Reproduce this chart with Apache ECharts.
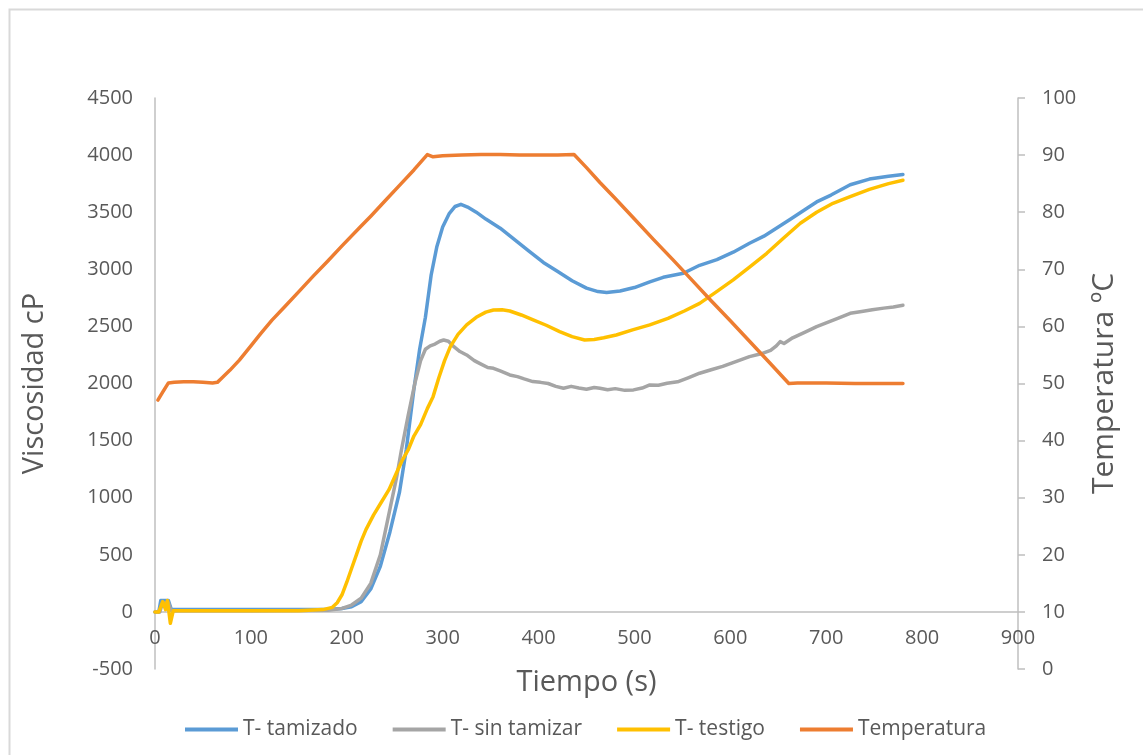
<!DOCTYPE html>
<html>
<head>
<meta charset="utf-8">
<script src="https://cdn.jsdelivr.net/npm/echarts@6/dist/echarts.min.js"></script>
<style>
html,body{margin:0;padding:0;background:#fff;}
#chart{width:1143px;height:755px;}
</style>
</head>
<body>
<div id="chart"></div>
<script>
// Left axis (Viscosidad cP) and right axis (Temperatura ºC) tick setup
const leftTicks = {min: -500, max: 4500, interval: 500};
const rightTicks = {min: 0, max: 100, interval: 10};
const xTicks = {min: 0, max: 900, interval: 100};

const seriesNames = ['T- tamizado', 'T- sin tamizar', 'T- testigo', 'Temperatura'];

// T- tamizado
const tamizadoT = [0, 4, 6, 14, 17, 20, 50, 100, 150, 180, 195, 205, 215, 225, 235, 245, 255, 262, 270, 276, 282, 288, 294, 300, 307, 313, 319, 326, 335, 345, 360, 375, 390, 405, 420, 435, 450, 462, 471, 485, 500, 516, 530, 551, 568, 586, 603, 620, 635, 648, 663, 680, 690, 705, 725, 745, 765, 780];
const tamizadoV = [0, 0, 100, 100, 20, 20, 20, 20, 20, 22, 30, 45, 90, 200, 400, 700, 1050, 1418, 1950, 2300, 2580, 2950, 3200, 3370, 3490, 3550, 3569, 3545, 3500, 3440, 3360, 3260, 3160, 3060, 2980, 2900, 2835, 2805, 2796, 2810, 2840, 2890, 2930, 2965, 3035, 3085, 3150, 3228, 3290, 3359, 3440, 3534, 3590, 3650, 3740, 3790, 3815, 3830];

// T- sin tamizar
const sinTamizarT = [0, 5, 8, 14, 17, 20, 100, 180, 195, 205, 215, 225, 235, 245, 252, 257, 264, 271, 277, 282, 287, 292, 297, 301, 306, 312, 318, 325, 333, 340, 347, 353, 360, 370, 378, 385, 394, 402, 410, 418, 426, 434, 442, 450, 458, 464, 472, 480, 490, 499, 508, 516, 525, 534, 545, 556, 568, 580, 592, 605, 620, 632, 642, 648, 652, 656, 665, 678, 690, 700, 712, 725, 737, 748, 760, 770, 780];
const sinTamizarV = [0, 0, 80, 80, 10, 10, 10, 15, 30, 60, 120, 250, 500, 900, 1180, 1418, 1720, 2002, 2200, 2300, 2330, 2345, 2370, 2381, 2370, 2320, 2280, 2250, 2200, 2170, 2140, 2133, 2110, 2075, 2060, 2040, 2017, 2010, 2000, 1975, 1958, 1975, 1960, 1950, 1965, 1958, 1945, 1955, 1940, 1944, 1960, 1987, 1985, 2002, 2015, 2050, 2090, 2120, 2150, 2190, 2235, 2260, 2290, 2330, 2367, 2350, 2400, 2450, 2498, 2530, 2570, 2615, 2630, 2645, 2660, 2670, 2685];

// T- testigo
const testigoT = [0, 4, 8, 11, 13, 16, 19, 22, 50, 100, 150, 175, 185, 190, 195, 200, 205, 210, 215, 220, 228, 236, 244, 252, 258, 264, 270, 277, 284, 290, 296, 302, 308, 316, 325, 335, 345, 353, 362, 370, 382, 395, 408, 422, 435, 448, 458, 468, 481, 498, 516, 535, 552, 568, 585, 603, 620, 638, 655, 673, 690, 707, 725, 745, 765, 780];
const testigoV = [0, 0, 90, 20, 100, -100, 10, 10, 10, 10, 10, 20, 40, 80, 150, 260, 380, 500, 620, 720, 850, 960, 1070, 1220, 1330, 1418, 1540, 1640, 1780, 1885, 2050, 2200, 2323, 2430, 2513, 2580, 2625, 2644, 2645, 2635, 2600, 2556, 2510, 2454, 2410, 2381, 2385, 2400, 2425, 2470, 2513, 2570, 2635, 2702, 2800, 2907, 3020, 3140, 3270, 3403, 3500, 3578, 3636, 3700, 3750, 3780];

// Temperatura (right axis)
const tempT = [3, 8, 14, 20, 30, 40, 50, 60, 65, 70, 78, 88, 100, 110, 122, 135, 150, 165, 180, 195, 214, 225, 240, 255, 270, 284, 290, 300, 320, 340, 360, 380, 400, 420, 437, 450, 464, 480, 500, 520, 540, 560, 580, 600, 620, 640, 661, 670, 700, 730, 760, 780];
const tempV = [47.1, 48.5, 50.1, 50.2, 50.3, 50.3, 50.2, 50.1, 50.2, 51.0, 52.3, 54.1, 56.6, 58.7, 61.1, 63.4, 66.1, 68.8, 71.4, 74.1, 77.4, 79.3, 82.0, 84.7, 87.4, 90.1, 89.7, 89.9, 90.0, 90.1, 90.1, 90.0, 90.0, 90.0, 90.1, 87.8, 85.2, 82.4, 78.8, 75.2, 71.7, 68.1, 64.5, 61.0, 57.4, 53.8, 50.0, 50.1, 50.1, 50.0, 50.0, 50.0];

const colors = ['#5B9BD5', '#A5A5A5', '#FFC000', '#ED7D31'];
const pair = (xs, ys) => xs.map((x, i) => [x, ys[i]]);
const FONT = '"Open Sans", "Liberation Sans", sans-serif';
const TXT = '#595959';
const AXC = '#BFBFBF';
const plain = v => String(v);

const chart = echarts.init(document.getElementById('chart'), null, {renderer: 'canvas'});

function lineSeries(name, data, color, yIdx) {
  return {
    name: name, type: 'line', yAxisIndex: yIdx, data: data,
    symbol: 'none', smooth: false,
    lineStyle: {color: color, width: 3.5, cap: 'round', join: 'round'},
    itemStyle: {color: color},
    animation: false
  };
}

chart.setOption({
  animation: false,
  backgroundColor: '#fff',
  color: colors,
  textStyle: {fontFamily: FONT},
  graphic: [{
    type: 'rect', left: 7, top: 7, silent: true,
    shape: {x: 0, y: 0, width: 1200, height: 800},
    style: {fill: 'none', stroke: '#D9D9D9', lineWidth: 2}
  }],
  grid: {left: 155, right: 125, top: 98, bottom: 86, containLabel: false},
  legend: {
    data: seriesNames,
    left: 185, top: 719, padding: 0,
    icon: 'rect', itemWidth: 53, itemHeight: 4, itemGap: 35,
    textStyle: {fontFamily: FONT, fontSize: 21, color: TXT},
    selectedMode: false
  },
  xAxis: {
    type: 'value', min: xTicks.min, max: xTicks.max, interval: xTicks.interval,
    offset: -57,
    name: 'Tiempo (s)', nameLocation: 'middle', nameGap: 56,
    nameTextStyle: {fontFamily: FONT, fontSize: 29, color: TXT},
    axisLine: {show: true, onZero: false, lineStyle: {color: AXC, width: 1.5}},
    axisTick: {show: false},
    axisLabel: {fontFamily: FONT, fontSize: 20, color: TXT, margin: 16, showMaxLabel: true, showMinLabel: true, formatter: plain},
    splitLine: {show: false}
  },
  yAxis: [{
    type: 'value', position: 'left',
    min: leftTicks.min, max: leftTicks.max, interval: leftTicks.interval,
    name: 'Viscosidad cP', nameLocation: 'middle', nameGap: 106,
    nameTextStyle: {fontFamily: FONT, fontSize: 29, color: TXT},
    axisLine: {show: true, onZero: false, lineStyle: {color: AXC, width: 1.5}},
    axisTick: {show: false},
    axisLabel: {fontFamily: FONT, fontSize: 20, color: TXT, margin: 22, formatter: plain},
    splitLine: {show: false}
  }, {
    type: 'value', position: 'right',
    min: rightTicks.min, max: rightTicks.max, interval: rightTicks.interval,
    name: 'Temperatura ºC', nameLocation: 'middle', nameGap: 71,
    nameTextStyle: {fontFamily: FONT, fontSize: 30, color: TXT},
    axisLine: {show: true, onZero: false, lineStyle: {color: AXC, width: 1.5}},
    axisTick: {show: true, inside: false, length: 7, lineStyle: {color: AXC, width: 1.5}},
    axisLabel: {fontFamily: FONT, fontSize: 20, color: TXT, margin: 24, formatter: plain},
    splitLine: {show: false}
  }],
  series: [
    lineSeries(seriesNames[0], pair(tamizadoT, tamizadoV), colors[0], 0),
    lineSeries(seriesNames[1], pair(sinTamizarT, sinTamizarV), colors[1], 0),
    lineSeries(seriesNames[2], pair(testigoT, testigoV), colors[2], 0),
    lineSeries(seriesNames[3], pair(tempT, tempV), colors[3], 1)
  ]
});
</script>
</body>
</html>
